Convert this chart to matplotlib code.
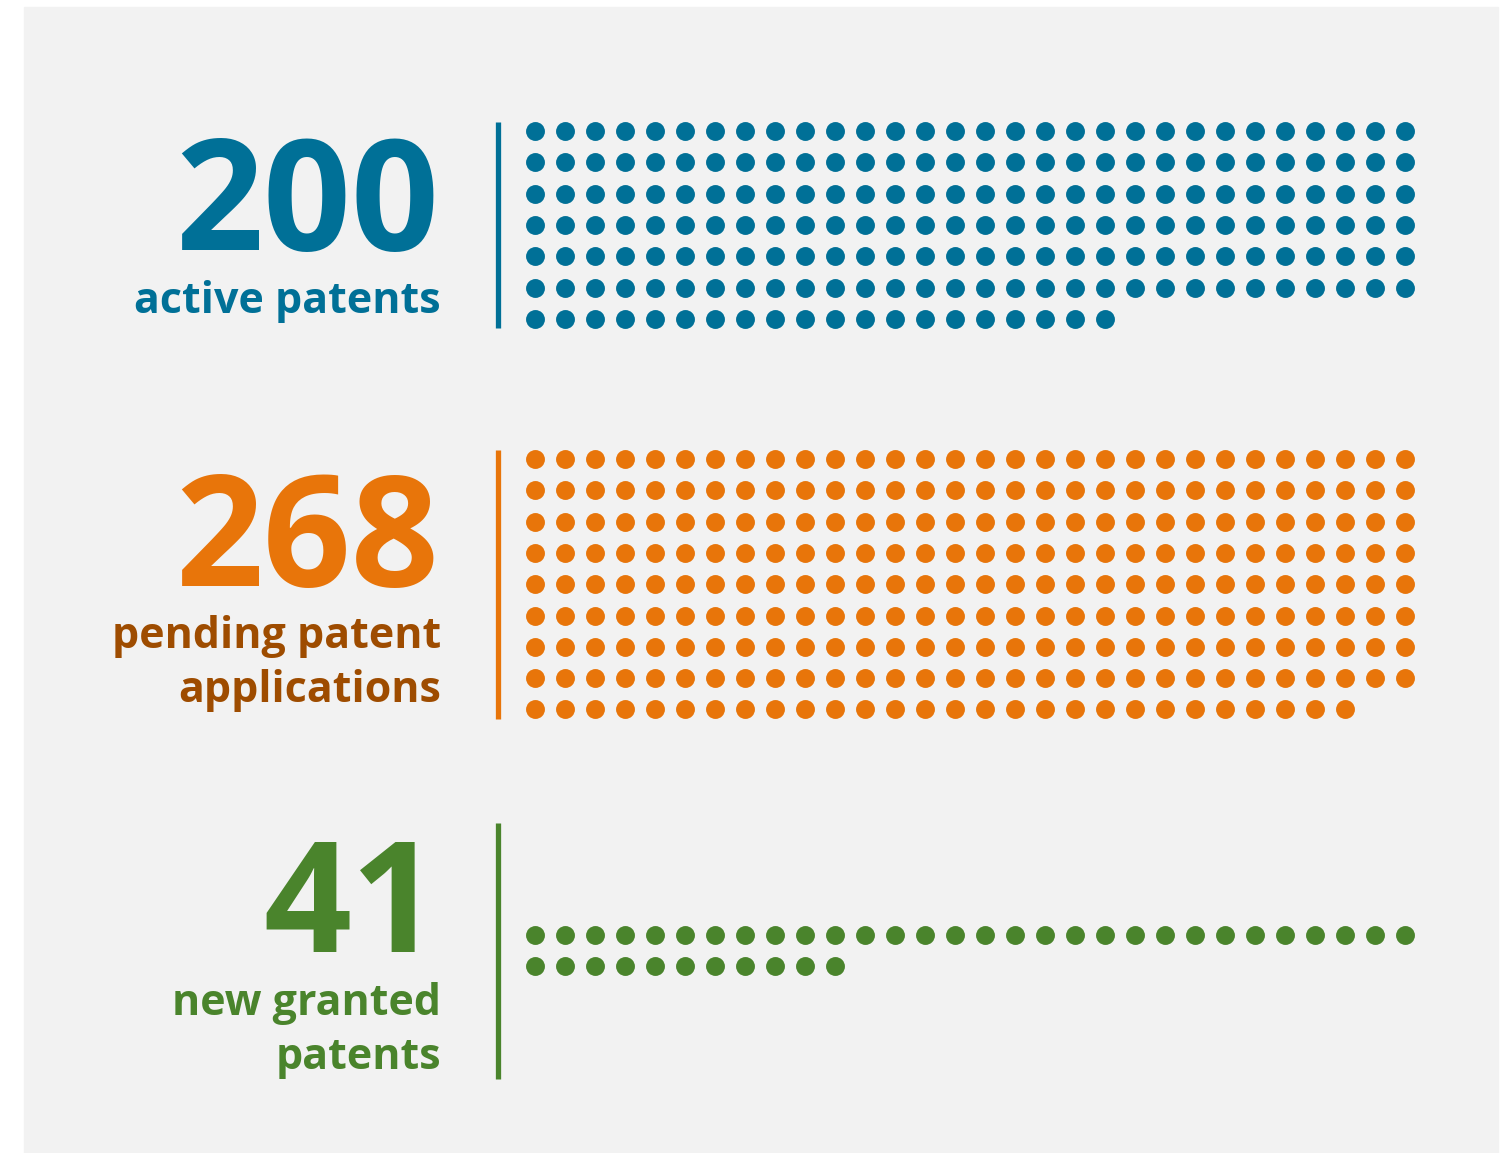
#!/usr/bin/env python3
"""Patent portfolio dot chart: one dot per patent."""

import matplotlib
matplotlib.use("Agg")
import matplotlib.pyplot as plt
from matplotlib.patches import Rectangle

# data
counts = [200, 268, 41]
numbers = ["200", "268", "41"]
labels = [
    ["active patents"],
    ["pending patent", "applications"],
    ["new granted", "patents"],
]
dot_colors = ["#007097", "#E8750A", "#4A842C"]
label_colors = ["#007097", "#9E4C00", "#4A842C"]

# layout (pixels, figure is 1510 x 1153)
W, H = 1510, 1153
per_row = 30
dot_x0, dot_dx, dot_dy = 535, 30, 31.3
first_row_y = [131, 459, 935]
line_spans = [(122, 328), (450, 719), (823, 1079)]
number_base = [250, 586, 952]
label_base = [313, 648, 1015]
label_step = 54
number_right = 439
label_right = 441

plt.rcParams["font.family"] = ["Open Sans", "DejaVu Sans"]

fig = plt.figure(figsize=(W / 100, H / 100), dpi=100)
ax = fig.add_axes([0, 0, 1, 1])
ax.set_xlim(0, W)
ax.set_ylim(H, 0)
ax.axis("off")

ax.add_patch(Rectangle((24, 7), 1474, 1146, color="#F2F2F2", zorder=0))

for k, n in enumerate(counts):
    xs = [dot_x0 + (i % per_row) * dot_dx for i in range(n)]
    ys = [first_row_y[k] + (i // per_row) * dot_dy for i in range(n)]
    ax.scatter(xs, ys, s=185, color=dot_colors[k], linewidths=0, zorder=2)

    y0, y1 = line_spans[k]
    ax.plot([498, 498], [y0, y1], color=dot_colors[k], lw=3.8,
            solid_capstyle="butt", zorder=2)

    ax.text(number_right, number_base[k], numbers[k], color=dot_colors[k],
            fontsize=111, fontweight="bold", ha="right", va="baseline")
    for j, line in enumerate(labels[k]):
        ax.text(label_right, label_base[k] + j * label_step, line,
                color=label_colors[k], fontsize=31, fontweight="bold",
                ha="right", va="baseline")

plt.savefig("out.png", dpi=100, facecolor="white")
print("Saved: out.png")
